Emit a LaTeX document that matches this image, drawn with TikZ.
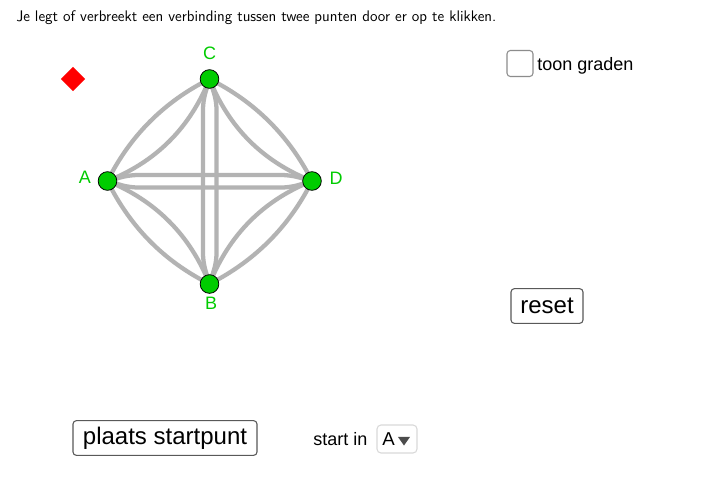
\documentclass[tikz,border=0pt]{standalone}
\usepackage{fontspec}
\setmainfont{Liberation Sans}
\setsansfont{Latin Modern Sans}
\usetikzlibrary{calc,shapes.geometric}
\definecolor{edgegray}{HTML}{B3B3B3}
\definecolor{ptgreen}{HTML}{00CC00}
\definecolor{lblgreen}{HTML}{00CC00}
\tikzset{
  edgeline/.style={draw=edgegray,line width=3.2pt,line cap=round},
  bundle/.style={edgeline,rounded corners=6pt},
  pt/.style={circle,draw=black,line width=0.6pt,fill=ptgreen,minimum size=14pt,inner sep=0pt},
  lbl/.style={text=lblgreen,font=\fontsize{13.5pt}{15pt}\selectfont,inner sep=0pt},
  btn/.style={draw=black!65,line width=0.8pt,rounded corners=2.5pt,fill=white,inner sep=0pt,text=black},
  plain/.style={inner sep=0pt,text=black},
}
\newcommand{\qarc}[3]{\draw[edgeline] (#1) .. controls ($(#1)!0.667!($(#1)+(#3)$)$) and ($(#2)!0.667!($(#1)+(#3)$)$) .. (#2);}
\begin{document}
\begin{tikzpicture}[x=0.75pt,y=-0.75pt]
\useasboundingbox (0,0) rectangle (716,497);
\fill[white] (0,0) rectangle (716,497);
\coordinate (A) at (107.5,181);
\coordinate (C) at (209.5,79);
\coordinate (D) at (312,181);
\coordinate (B) at (209.5,284);
% outer arcs
\qarc{A}{C}{34,-68}
\qarc{C}{D}{68,34}
\qarc{D}{B}{-34,68}
\qarc{B}{A}{-68,-34}
% inner arcs
\qarc{A}{C}{73,-29}
\qarc{C}{D}{29,73}
\qarc{D}{B}{-73,29}
\qarc{B}{A}{-29,-73}
% double straight lines
\draw[bundle] (A) -- ($(A)+(22,-6)$) -- ($(D)+(-22,-6)$) -- (D);
\draw[bundle] (A) -- ($(A)+(22,6.5)$) -- ($(D)+(-22,6.5)$) -- (D);
\draw[bundle] (C) -- ($(C)+(-6.5,22)$) -- ($(B)+(-6.5,-22)$) -- (B);
\draw[bundle] (C) -- ($(C)+(7,22)$) -- ($(B)+(7,-22)$) -- (B);
% points
\node[pt] (nA) at (A) {};
\node[pt] (nC) at (C) {};
\node[pt] (nD) at (D) {};
\node[pt] (nB) at (B) {};
\node[lbl] (lA) at (85,177) {A};
\node[lbl] (lC) at (209.5,53) {C};
\node[lbl] (lD) at (336,178) {D};
\node[lbl] (lB) at (211,303.5) {B};
% red diamond
\node[diamond,fill=red,minimum size=18.5pt,inner sep=0pt] (mark) at (73,79) {};
% top text
\node[plain,anchor=west,font=\sffamily\fontsize{11.5pt}{13pt}\selectfont] (title) at (16,18) {Je legt of verbreekt een verbinding tussen twee punten door er op te klikken.};
% checkbox
\node[draw=black!45,line width=0.8pt,rounded corners=2.5pt,minimum width=19.5pt,minimum height=19.5pt,inner sep=0pt] (box) at (520,63.5) {};
\node[plain,anchor=west,font=\fontsize{13.5pt}{16pt}\selectfont] (toon) at (537,65.5) {toon graden};
% buttons
\node[btn,minimum width=54pt,minimum height=26pt,font=\fontsize{18pt}{20pt}\selectfont] (reset) at (547,306) {\raisebox{-0.8pt}{reset}};
\node[btn,minimum width=138pt,minimum height=26pt,font=\fontsize{18pt}{20pt}\selectfont] (plaats) at (165,438) {\raisebox{-1pt}{plaats startpunt}};
\node[plain,anchor=west,font=\fontsize{13.5pt}{15pt}\selectfont] (start) at (313,439) {start in};
% dropdown
\node[draw=black!15,line width=0.8pt,rounded corners=3pt,minimum width=30pt,minimum height=21pt,inner sep=0pt] (drop) at (397,439) {};
\node[plain,anchor=west,font=\fontsize{14pt}{16pt}\selectfont] (dropA) at (382,439) {A};
\node[isosceles triangle,isosceles triangle apex angle=70,shape border rotate=-90,fill=black!70,minimum size=6.5pt,inner sep=0pt] (arrow) at (404,440) {};
\end{tikzpicture}
\end{document}
